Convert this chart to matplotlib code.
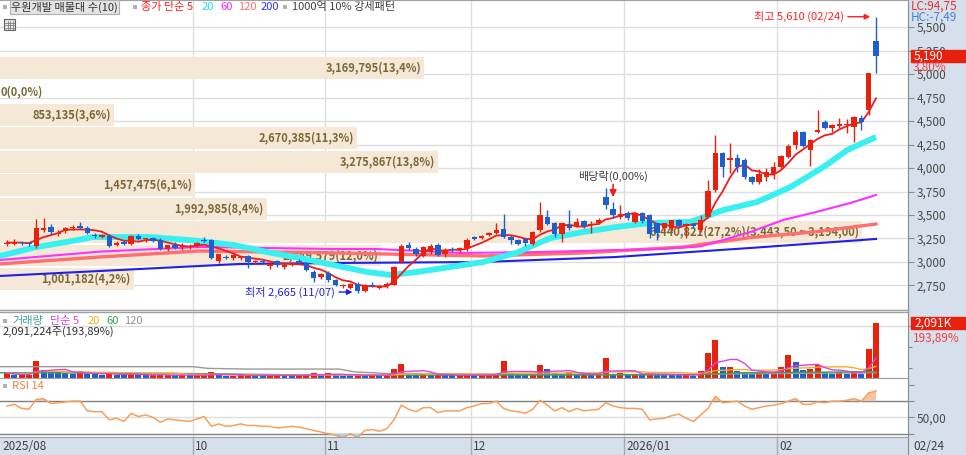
import numpy as np
import pandas as pd
import matplotlib
matplotlib.use("Agg")
import matplotlib.pyplot as plt
from matplotlib.patches import Rectangle
from matplotlib.lines import Line2D
from matplotlib.transforms import blended_transform_factory
from matplotlib.ticker import FuncFormatter

plt.rcParams['font.family'] = ['Noto Sans CJK KR', 'DejaVu Sans']
plt.rcParams['font.size'] = 8

# daily candles, mid 2025-08 .. 2026-02-24 (won)
opens = [3190, 3195, 3210, 3200, 3165, 3345, 3375, 3300, 3330, 3360,
         3385, 3360, 3290, 3270, 3280, 3180, 3210, 3195, 3275, 3240,
         3250, 3230, 3140, 3180, 3160, 3165, 3180, 3230, 3230, 3015,
         3055, 3045, 3040, 3060, 3000, 3010, 2960, 3010, 2950, 2975,
         3010, 2985, 2895, 2845, 2880, 2805, 2740, 2725, 2770, 2690,
         2750, 2725, 2740, 2760, 3000, 3180, 3140, 3065, 3110, 3180,
         3080, 3140, 3130, 3146, 3262, 3250, 3290, 3312, 3355, 3268,
         3232, 3245, 3192, 3340, 3475, 3410, 3300, 3392, 3385, 3440,
         3390, 3412, 3695, 3562, 3480, 3518, 3430, 3520, 3500, 3410,
         3360, 3360, 3445, 3380, 3400, 3340, 3480, 3770, 4160, 4085,
         4110, 4090, 3900, 3850, 3905, 3940, 4010, 4120, 4245, 4383,
         4190, 4380, 4490, 4426, 4450, 4460, 4440, 4530, 4617, 5350]
highs = [3230, 3240, 3225, 3215, 3460, 3465, 3400, 3340, 3370, 3390,
         3430, 3380, 3310, 3300, 3300, 3220, 3230, 3290, 3300, 3260,
         3270, 3250, 3180, 3210, 3200, 3190, 3215, 3265, 3245, 3090,
         3070, 3080, 3060, 3075, 3020, 3025, 3000, 3020, 2990, 3000,
         3030, 3000, 2910, 2880, 2900, 2820, 2765, 2780, 2790, 2770,
         2790, 2760, 2790, 2960, 3190, 3210, 3160, 3170, 3190, 3200,
         3150, 3160, 3160, 3250, 3275, 3285, 3320, 3410, 3515, 3285,
         3245, 3255, 3330, 3635, 3550, 3425, 3420, 3550, 3470, 3450,
         3440, 3470, 3790, 3640, 3610, 3540, 3525, 3530, 3510, 3420,
         3420, 3450, 3455, 3420, 3420, 3500, 3870, 4350, 4170, 4270,
         4150, 4110, 3910, 3990, 4000, 4060, 4140, 4260, 4400, 4390,
         4310, 4617, 4510, 4470, 4530, 4520, 4550, 4560, 5011, 5610]
lows = [3175, 3185, 3180, 3170, 3150, 3320, 3300, 3280, 3310, 3340,
        3350, 3300, 3260, 3250, 3160, 3170, 3180, 3180, 3230, 3210,
        3210, 3130, 3120, 3140, 3130, 3140, 3160, 3210, 3030, 2990,
        3030, 3020, 3020, 2935, 2980, 2990, 2930, 2950, 2930, 2960,
        2980, 2900, 2790, 2820, 2790, 2740, 2720, 2710, 2665, 2680,
        2730, 2710, 2720, 2750, 2990, 3130, 3060, 3050, 3090, 3060,
        3050, 3110, 3110, 3120, 3230, 3240, 3280, 3300, 3255, 3195,
        3185, 3170, 3185, 3320, 3390, 3270, 3215, 3340, 3370, 3360,
        3310, 3400, 3560, 3470, 3460, 3450, 3415, 3410, 3250, 3230,
        3330, 3330, 3360, 3260, 3360, 3320, 3470, 3750, 3900, 3950,
        3960, 3880, 3830, 3830, 3860, 3880, 3990, 4110, 4200, 4220,
        4020, 4370, 4410, 4380, 4430, 4370, 4280, 4400, 4560, 5010]
closes = [3205, 3210, 3198, 3190, 3360, 3360, 3320, 3310, 3365, 3372,
          3365, 3310, 3275, 3290, 3170, 3205, 3190, 3275, 3240, 3255,
          3220, 3140, 3180, 3150, 3170, 3175, 3205, 3220, 3045, 3080,
          3040, 3070, 3050, 3000, 3010, 2995, 2975, 2965, 2968, 2990,
          2986, 2915, 2830, 2870, 2810, 2760, 2755, 2770, 2690, 2755,
          2740, 2745, 2770, 2950, 3170, 3150, 3080, 3155, 3175, 3070,
          3130, 3125, 3145, 3234, 3240, 3275, 3310, 3345, 3265, 3230,
          3195, 3200, 3320, 3505, 3405, 3300, 3410, 3360, 3428, 3378,
          3405, 3452, 3606, 3502, 3515, 3465, 3518, 3440, 3300, 3305,
          3410, 3445, 3380, 3400, 3380, 3450, 3760, 4160, 4010, 4110,
          4010, 3900, 3850, 3940, 3958, 4010, 4130, 4234, 4383, 4230,
          4298, 4404, 4426, 4460, 4468, 4470, 4543, 4490, 5011, 5190]
# thousand shares
volumes = [200, 110, 110, 130, 670, 320, 250, 220, 200, 150,
           250, 150, 140, 120, 200, 130, 110, 160, 120, 110,
           110, 120, 120, 100, 110, 100, 100, 110, 220, 120,
           90, 90, 100, 110, 95, 90, 100, 110, 95, 90,
           100, 110, 200, 100, 200, 110, 95, 90, 120, 100,
           100, 90, 110, 350, 550, 170, 150, 170, 120, 130,
           110, 100, 100, 130, 110, 120, 130, 150, 640, 210,
           130, 120, 150, 480, 350, 210, 160, 240, 130, 140,
           120, 150, 750, 170, 180, 140, 160, 130, 170, 150,
           140, 110, 100, 110, 90, 280, 970, 1460, 410, 420,
           280, 240, 170, 240, 230, 240, 420, 870, 600, 300,
           350, 500, 240, 170, 240, 170, 260, 170, 1100, 2091.224]
rsi14 = [64, 66, 61, 60, 72, 73, 67, 68, 69, 70,
         70, 58, 57, 57, 47, 49, 45, 55, 51, 53,
         50, 44, 48, 47, 46, 45, 48, 51, 39, 42,
         39, 40, 42, 40, 40, 39, 39, 37, 38, 39,
         38, 36, 34, 32, 30, 28, 25, 30, 25, 34,
         35, 33, 36, 47, 65, 60, 57, 62, 62, 56,
         58, 58, 58, 62, 64, 67, 67, 70, 61, 58,
         57, 55, 60, 71, 65, 58, 62, 57, 61, 58,
         59, 60, 68, 64, 62, 61, 61, 60, 47, 48,
         49, 52, 54, 49, 45, 53, 61, 76, 68, 69,
         70, 64, 60, 62, 64, 65, 67, 70, 73, 66,
         66, 69, 68, 70, 70, 71, 73, 70, 80, 82.5]

month_starts = [26, 44, 64, 85, 106]
month_labels = ['10', '11', '12', '2026/01', '02']

# longer moving averages: (bar index, value)
ma20_idx = [-1, 4.1, 8.2, 11.8, 15.1, 19.6, 26.4, 31.0, 35.6, 40.1, 44.7, 49.3, 52.5, 56.2,
            60.7, 65.2, 69.7, 74.4, 78.9, 83.4, 88.1, 93.6, 98.1, 102.7, 107.3, 111.8, 115.1, 119]
ma20_val = [3064, 3160, 3213, 3266, 3266, 3266, 3223, 3181, 3106, 3043, 2968, 2894, 2862, 2894,
            2947, 3000, 3096, 3255, 3319, 3372, 3415, 3426, 3553, 3638, 3798, 4011, 4192, 4330]
ma60_idx = [-1, 12.7, 26.4, 44.7, 50.7, 62.1, 73.0, 84.0, 89.5, 94.9, 98.1, 101.8, 106.3, 110.8, 115.5, 119]
ma60_val = [3021, 3110, 3160, 3138, 3138, 3096, 3106, 3128, 3138, 3165, 3234, 3319, 3447, 3532, 3628, 3713]
ma120_idx = [-1, 12.7, 26.4, 44.7, 65.2, 78.9, 92.6, 101.8, 110.8, 119]
ma120_val = [2979, 3053, 3117, 3096, 3064, 3096, 3160, 3260, 3322, 3404]
ma200_idx = [-1, 15.5, 31.9, 44.7, 65.2, 83.4, 101.8, 119]
ma200_val = [2851, 2915, 2979, 2989, 3000, 3053, 3149, 3245]
vma60_idx = [-1, 25, 40, 64, 85, 95, 100, 119]
vma60_val = [200, 171, 120, 110, 120, 130, 200, 240]
vma120_idx = [-1, 25.5, 27.5, 33, 45.5, 47.5, 52, 65, 90, 95, 119]
vma120_val = [434, 434, 368, 342, 342, 237, 171, 145, 131, 145, 200]

# 매물대 volume profile, top band first
band_vols = [3169795, 0, 853135, 2670385, 3275867, 1457475, 1992985, 6440821, 2849579, 1001182]
band_pcts = [13.4, 0.0, 3.6, 11.3, 13.8, 6.1, 8.4, 27.2, 12.0, 4.2]
band_top, band_step = 5190.0, 249.5

RED = '#e8200e'
BLUE = '#1e5fcc'
PANEL = '#d6e0ec'
GRID = '#dedede'

W, H = 966, 455
PLOT_R = 908
o, h, l, c = (np.array(a, float) for a in (opens, highs, lows, closes))
vol = np.array(volumes) * 1000
N = len(c)
idx = np.arange(N)
dx = (876 - 7) / (N - 1)
xlim = (-7 / dx, (PLOT_R - 7) / dx)

fig = plt.figure(figsize=(W / 100, H / 100), dpi=100, facecolor=PANEL)


def fx(px):
    return px / W


def fy(py):
    return 1 - py / H


def add_ax(top, bottom):
    a = fig.add_axes([0, fy(bottom), fx(PLOT_R), (bottom - top) / H])
    a.set_xlim(*xlim)
    for s in a.spines.values():
        s.set_color('#a0a0a0')
    a.spines['left'].set_visible(False)
    a.spines['right'].set_color('#8a8a8a')
    a.tick_params(axis='x', bottom=False, labelbottom=False)
    a.yaxis.tick_right()
    a.tick_params(axis='y', direction='out', length=4, pad=2, color='#8a8a8a',
                  labelcolor='#4a4a4a', labelsize=8.5)
    for m in month_starts:
        a.axvline(m - 0.5, color=GRID, lw=1, zorder=0)
    return a


ax = add_ax(0, 310)
axv = add_ax(310, 378)
axr = add_ax(378, 437)
axd = add_ax(437, 455)

# ---- price panel ----
ax.set_ylim(2489, 5788)
ax.set_yticks(np.arange(2750, 5501, 250))
ax.yaxis.set_major_formatter(FuncFormatter(lambda v, p: f"{int(v):,}"))
ax.grid(axis='y', color=GRID, lw=1, zorder=0)
ax.set_axisbelow(True)

vmax = max(band_vols)
for k, (bv, bp) in enumerate(zip(band_vols, band_pcts)):
    top = band_top - k * band_step
    mid = top - band_step / 2
    width = bv / vmax * PLOT_R * 0.949 / dx
    ax.barh(mid, width, left=xlim[0], height=band_step - 16, color='#f5e8d6', zorder=1)
    label = f"{bv:,}({bp:.1f}%)".replace('.', ',')
    if bv == vmax:
        label += f"({top:,.2f} ~ {top - band_step:,.2f})".replace('.', ',')
    if bv == 0:
        ax.text(xlim[0] + 1 / dx, mid, label, ha='left', va='center', fontsize=8,
                color='#7a6838', fontweight='bold', zorder=2)
    else:
        ax.text(xlim[0] + width - 3 / dx, mid, label, ha='right', va='center', fontsize=8,
                color='#7a6838', fontweight='bold', zorder=2)

ma5 = pd.Series(c).rolling(5, min_periods=1).mean()
ax.plot(ma200_idx, ma200_val, color='#2020e8', lw=1.5, zorder=3)
ax.plot(ma120_idx, ma120_val, color='#ff6f6f', lw=2.4, zorder=3)
ax.plot(ma60_idx, ma60_val, color='#ff30ff', lw=1.5, zorder=3)
ax.plot(ma20_idx, ma20_val, color='#38f0f0', lw=4.2, zorder=3, solid_capstyle='butt')
ax.plot(idx, ma5, color='#ee1c1c', lw=1.3, zorder=4)

up = c >= o
cols = np.where(up, RED, BLUE)
ax.vlines(idx, l, h, colors=cols, lw=1, zorder=5)
body = np.maximum(np.abs(c - o), 10)
ax.bar(idx, body, bottom=np.minimum(o, c), width=0.74, color=cols, lw=0, zorder=6)

imax = int(np.argmax(h))
imin = int(np.argmin(l))
ax.annotate(f"최고 {h[imax]:,.0f} (02/24)", xy=(imax - 0.6, h[imax]), xytext=(-28, 0),
            textcoords='offset pixels', ha='right', va='center', color='#ff2020', fontsize=8,
            arrowprops=dict(arrowstyle='-|>', color='#ff2020', lw=1, shrinkA=1, shrinkB=1,
                            mutation_scale=8), zorder=7)
ax.annotate(f"최저 {l[imin]:,.0f} (11/07)", xy=(imin - 0.5, l[imin] + 15), xytext=(-19, 0),
            textcoords='offset pixels', ha='right', va='center', color='#2020e0', fontsize=8,
            arrowprops=dict(arrowstyle='-|>', color='#2020e0', lw=1, shrinkA=1, shrinkB=1,
                            mutation_scale=8), zorder=7)
ax.text(83, 3915, '배당락(0,00%)', ha='center', va='center', fontsize=8, color='#404040', zorder=7)
ax.annotate('', xy=(83, 3660), xytext=(83, 3855),
            arrowprops=dict(arrowstyle='-|>', color='#ee2020', lw=1.2, mutation_scale=10), zorder=7)


# header line
def ftxt(x, y, s, **kw):
    kw.setdefault('fontsize', 8)
    kw.setdefault('va', 'center')
    fig.text(fx(x), fy(y), s, **kw)


def square(x, y):
    fig.add_artist(Rectangle((fx(x), fy(y + 2)), 4 / W, 4 / H, transform=fig.transFigure,
                             fc='#b0b0b0', ec='none'))


square(3, 7)
ftxt(11, 7, '우원개발 매물대 수(10)', color='#303030',
     bbox=dict(boxstyle='square,pad=0.12', fc='#e4e4e4', ec='#b0b0b0', lw=0.8))
square(133, 7)
ftxt(141, 7, '종가 단순 5', color='#ff2020')
ftxt(202, 7, '20', color='#20e0e0')
ftxt(220, 7, '60', color='#ff20ff')
ftxt(238, 7, '120', color='#ff7070')
ftxt(261, 7, '200', color='#3030ff')
square(283, 7)
ftxt(292, 7, '1000억 10% 강세패턴', color='#404040')
fig.add_artist(Rectangle((fx(4), fy(30)), 11 / W, 11 / H, transform=fig.transFigure,
                         fc='#e8e8e8', ec='#606060', lw=0.8))
for gy in (22.5, 25, 27.5):
    fig.add_artist(Line2D([fx(5), fx(14)], [fy(gy), fy(gy)], color='#707070', lw=0.5))
for gx in (7.5, 10, 12.5):
    fig.add_artist(Line2D([fx(gx), fx(gx)], [fy(21), fy(29)], color='#707070', lw=0.5))

tr = blended_transform_factory(ax.transAxes, ax.transData)
ax.add_patch(Rectangle((1 + 3 / PLOT_R, c[-1] - 62), 58 / PLOT_R, 124, transform=tr,
                       color='#e8200e', clip_on=False, zorder=10))
ax.text(1 + 6 / PLOT_R, c[-1], f"{c[-1]:,.0f}", transform=tr, color='white', va='center',
        fontsize=8.5, clip_on=False, zorder=11)
ftxt(913, 67, '3,80%', color='#f04040', fontsize=8.5)
ftxt(911, 6, 'LC:94,75', color='#e83030', fontsize=8.5)
ftxt(911, 17, 'HC:-7,49', color='#4a7fd8', fontsize=8.5)

# ---- volume panel ----
vtop = vol.max() * 66 / 53
axv.set_ylim(0, vtop)
axv.set_yticks([0.4e6, 1.2e6, 2.0e6])
axv.tick_params(axis='y', labelright=False, length=3)
axv.axhline(2.0e6, color=GRID, lw=1, zorder=0)
vcols = [RED] + [RED if vol[i] >= vol[i - 1] else BLUE for i in range(1, N)]
axv.bar(idx, vol, width=0.82, color=vcols, lw=0, zorder=3)
vs = pd.Series(vol)
axv.plot(vma120_idx, np.array(vma120_val) * 1000, color='#9a9a9a', lw=1, zorder=4)
axv.plot(vma60_idx, np.array(vma60_val) * 1000, color='#3aa050', lw=1, zorder=4)
axv.plot(idx, vs.rolling(20, min_periods=1).mean(), color='#f0b030', lw=1, zorder=4)
axv.plot(idx, vs.rolling(5, min_periods=1).mean(), color='#e040e0', lw=1, zorder=4)
axv.spines['top'].set_visible(False)
for yy in (309.5, 312):
    fig.add_artist(Line2D([0, fx(PLOT_R)], [fy(yy), fy(yy)], color='#a0a0a0', lw=1))

square(3, 321)
ftxt(12, 321, '거래량', color='#40a0a0')
ftxt(50, 321, '단순 5', color='#e040e0')
ftxt(88, 321, '20', color='#f0b020')
ftxt(106, 321, '60', color='#30a050')
ftxt(124, 321, '120', color='#909090')
ftxt(3, 332, f"{vol[-1]:,.0f}주(193,89%)", color='#303030')

trv = blended_transform_factory(axv.transAxes, axv.transData)
axv.add_patch(Rectangle((1 + 3 / PLOT_R, vol[-1] - 0.23e6), 58 / PLOT_R, 0.46e6, transform=trv,
                        color='#e8200e', clip_on=False, zorder=10))
axv.text(1 + 6 / PLOT_R, vol[-1], f"{vol[-1] / 1000:,.0f}K", transform=trv, color='white',
         va='center', fontsize=8.5, clip_on=False, zorder=11)
ftxt(913, 338, '193,89%', color='#f04040', fontsize=8.5)

# ---- RSI panel ----
r = np.array(rsi14, float)
axr.set_ylim(25.9, 98.4)
axr.set_yticks([30, 50, 70, 90])
axr.yaxis.set_major_formatter(FuncFormatter(lambda v, p: '50,00' if v == 50 else ''))
axr.axhline(70, color='#808080', lw=1, zorder=1)
axr.axhline(50, color=GRID, lw=1, zorder=1)
axr.axhline(30, color='#808080', lw=1, zorder=1)
axr.fill_between(idx, r, 70, where=r > 70, interpolate=True, color='#f8c4a0', lw=0, zorder=2)
axr.fill_between(idx, r, 30, where=r < 30, interpolate=True, color='#a8d4e4', lw=0, zorder=2)
axr.plot(idx, r, color='#f7a05c', lw=1.1, zorder=3)
square(3, 386)
ftxt(12, 386, 'RSI 14', color='#f08040')

# ---- date strip ----
axd.set_facecolor(PANEL)
axd.set_ylim(0, 1)
axd.set_yticks([])
for m in month_starts:
    axd.axvline(m - 0.5, color='#a0aab8', lw=1)
ftxt(2, 446, '2025/08', color='#404040', fontsize=8.5)
for m, lab in zip(month_starts, month_labels):
    axd.text(m - 0.5 + 2 / dx, 0.45, lab, va='center', ha='left', fontsize=8.5, color='#404040')
ftxt(913, 446, '02/24', color='#404040', fontsize=8.5)

fig.savefig('out.png', dpi=100, facecolor=PANEL)
